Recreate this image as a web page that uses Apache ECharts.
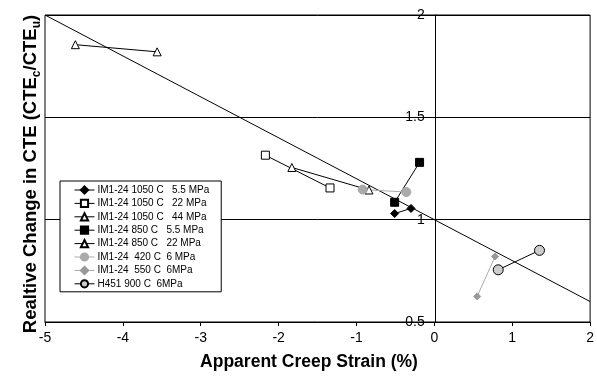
<!DOCTYPE html>
<html>
<head>
<meta charset="utf-8">
<script src="https://cdn.jsdelivr.net/npm/echarts@6/dist/echarts.min.js"></script>
<style>
  html, body { margin: 0; padding: 0; background: #fff; }
  #chart { width: 597px; height: 378px; }
</style>
</head>
<body>
<div id="chart"></div>
<script>
// Relative change in CTE versus apparent creep strain, per material / condition
var seriesNames = [
  'IM1-24 1050 C   5.5 MPa',
  'IM1-24 1050 C   22 MPa',
  'IM1-24 1050 C   44 MPa',
  'IM1-24 850 C   5.5 MPa',
  'IM1-24 850 C   22 MPa',
  'IM1-24  420 C  6 MPa',
  'IM1-24  550 C  6MPa',
  'H451 900 C  6MPa'
];

// creep strain (%) for each pair of measurements
var strain1050_55 = [-0.51, -0.30];
var strain1050_22 = [-2.17, -1.34];
var strain1050_44 = [-4.61, -3.56];
var strain850_55  = [-0.51, -0.19];
var strain850_22  = [-1.83, -0.84];
var strain420_6   = [-0.92, -0.36];
var strain550_6   = [0.55, 0.78];
var strainH451    = [0.82, 1.35];

// CTEc / CTEu ratio for each pair
var cte1050_55 = [1.03, 1.055];
var cte1050_22 = [1.315, 1.155];
var cte1050_44 = [1.855, 1.82];
var cte850_55  = [1.085, 1.28];
var cte850_22  = [1.255, 1.145];
var cte420_6   = [1.147, 1.135];
var cte550_6   = [0.625, 0.82];
var cteH451    = [0.755, 0.85];

// reference trend line
var trendX = [-5, 2];
var trendY = [2, 0.6];

var xTicks = { min: -5, max: 2, step: 1 };
var yTicks = { min: 0.5, max: 2, step: 0.5 };

function pairs(xs, ys) {
  return xs.map(function (x, i) { return [x, ys[i]]; });
}

var FONT = 'Liberation Sans, Arial, Helvetica, sans-serif';

var GRID = { left: 45, top: 15, right: 5, bottom: 56 };
var plotWidth = 597 - GRID.left - GRID.right;
// shift the value axis so that it sits on strain = 0
var yAxisShift = plotWidth * (0 - xTicks.min) / (xTicks.max - xTicks.min);

function lineSeries(name, xs, ys, symbol, size, fill, stroke, lineColor) {
  return {
    name: name,
    type: 'line',
    data: pairs(xs, ys),
    symbol: symbol,
    symbolSize: size,
    showAllSymbol: true,
    lineStyle: { color: lineColor, width: 1 },
    itemStyle: { color: fill, borderColor: stroke, borderWidth: 1 },
    emphasis: { disabled: true },
    animation: false,
    z: 3
  };
}

var series = [
  {
    name: 'trend',
    type: 'line',
    data: pairs(trendX, trendY),
    symbol: 'none',
    lineStyle: { color: '#000', width: 1 },
    silent: true,
    animation: false,
    z: 2
  },
  lineSeries(seriesNames[0], strain1050_55, cte1050_55, 'diamond', 8, '#000', '#000', '#000'),
  lineSeries(seriesNames[1], strain1050_22, cte1050_22, 'rect', 8, '#fff', '#000', '#000'),
  lineSeries(seriesNames[2], strain1050_44, cte1050_44, 'triangle', 8, '#fff', '#000', '#000'),
  lineSeries(seriesNames[3], strain850_55, cte850_55, 'rect', 8, '#000', '#000', '#000'),
  lineSeries(seriesNames[4], strain850_22, cte850_22, 'triangle', 8, '#fff', '#000', '#000'),
  lineSeries(seriesNames[5], strain420_6, cte420_6, 'circle', 9, '#aaa', '#aaa', '#aaa'),
  lineSeries(seriesNames[6], strain550_6, cte550_6, 'diamond', 7, '#999', '#999', '#aaa'),
  lineSeries(seriesNames[7], strainH451, cteH451, 'circle', 10, '#ccc', '#000', '#000')
];

var chart = echarts.init(document.getElementById('chart'), null, { renderer: 'canvas' });

chart.setOption({
  backgroundColor: '#fff',
  animation: false,
  textStyle: { fontFamily: FONT },
  grid: {
    left: GRID.left, top: GRID.top, right: GRID.right, bottom: GRID.bottom,
    show: true,
    borderColor: '#000',
    borderWidth: 1,
    backgroundColor: 'transparent'
  },
  legend: {
    data: seriesNames,
    orient: 'vertical',
    left: 60,
    top: 181,
    padding: [4, 12, 3, 14],
    itemWidth: 20,
    itemHeight: 9,
    itemGap: 3.4,
    lineStyle: { width: 1 },
    backgroundColor: '#fff',
    borderColor: '#000',
    borderWidth: 1,
    borderRadius: 0,
    textStyle: { fontSize: 10, color: '#000', fontFamily: FONT, padding: [0, 0, 0, -2] },
    selectedMode: false
  },
  xAxis: {
    type: 'value',
    min: xTicks.min,
    max: xTicks.max,
    interval: xTicks.step,
    axisLine: { onZero: false, lineStyle: { color: '#000', width: 1 } },
    axisTick: { show: true, length: 4, lineStyle: { color: '#000' } },
    axisLabel: { color: '#000', fontSize: 14, fontFamily: FONT, margin: 9 },
    splitLine: { show: false }
  },
  yAxis: {
    type: 'value',
    position: 'left',
    offset: -yAxisShift,
    min: yTicks.min,
    max: yTicks.max,
    interval: yTicks.step,
    axisLine: { show: true, onZero: false, lineStyle: { color: '#000', width: 1 } },
    axisTick: { show: true, length: 4, lineStyle: { color: '#000' } },
    axisLabel: { color: '#000', fontSize: 14, fontFamily: FONT, margin: 11 },
    splitLine: { show: true, lineStyle: { color: '#000', width: 1 } }
  },
  graphic: [
    {
      type: 'text',
      x: 309,
      y: 362,
      style: {
        text: 'Apparent Creep Strain (%)',
        font: 'bold 17.5px ' + FONT,
        fill: '#000',
        align: 'center',
        verticalAlign: 'middle'
      }
    },
    {
      type: 'text',
      x: 29,
      y: 174,
      rotation: Math.PI / 2,
      style: {
        text: '{a|Realtive Change in CTE (CTE}{s|c}{a|/CTE}{s|u}{a|)}',
        align: 'center',
        verticalAlign: 'middle',
        fill: '#000',
        rich: {
          a: { fontSize: 18.5, fontWeight: 'bold', fontFamily: FONT, fill: '#000', lineHeight: 22, verticalAlign: 'bottom' },
          s: { fontSize: 12, fontWeight: 'bold', fontFamily: FONT, fill: '#000', lineHeight: 12, verticalAlign: 'bottom', padding: [0, 0, -3, 0] }
        }
      }
    }
  ],
  series: series
});
</script>
</body>
</html>
